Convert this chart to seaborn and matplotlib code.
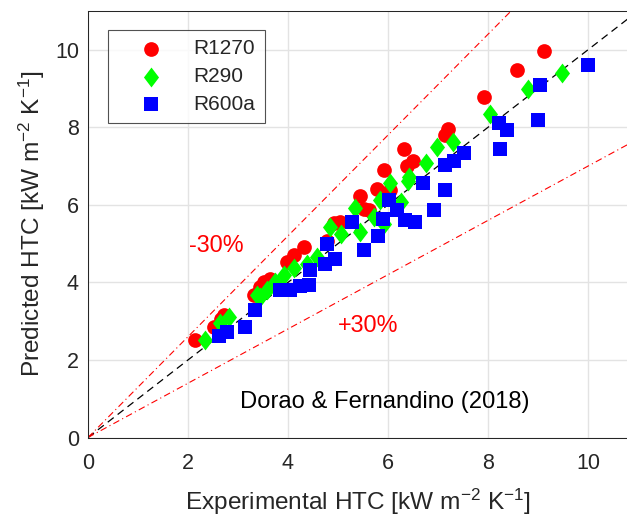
import numpy as np
import pandas as pd
import matplotlib
matplotlib.use("Agg")
import matplotlib.pyplot as plt
import seaborn as sns
from matplotlib.path import Path

# ---- data ----
r1270_exp = [2.14, 2.51, 2.65, 2.71, 3.31, 3.44, 3.51, 3.64, 3.97, 4.11, 4.31, 4.77, 4.92, 5.04,
             5.43, 5.51, 5.61, 5.77, 5.91, 6.04, 6.31, 6.37, 6.49, 7.13, 7.19, 7.91, 8.57, 9.11]
r1270_pred = [2.51, 2.85, 3.05, 3.15, 3.67, 3.88, 4.01, 4.10, 4.53, 4.70, 4.91, 5.08, 5.53, 5.55,
              6.22, 5.90, 5.86, 6.41, 6.89, 6.39, 7.43, 6.99, 7.14, 7.79, 7.96, 8.77, 9.49, 9.97]

r290_exp = [2.34, 2.64, 2.81, 3.37, 3.44, 3.57, 3.74, 3.91, 4.11, 4.37, 4.57, 4.84, 5.05, 5.34,
            5.44, 5.71, 5.83, 5.91, 6.03, 6.26, 6.39, 6.42, 6.75, 6.97, 7.29, 8.03, 8.79, 9.47]
r290_pred = [2.51, 2.95, 3.11, 3.67, 3.62, 3.80, 4.01, 4.18, 4.36, 4.48, 4.65, 5.43, 5.26, 5.93,
             5.30, 5.68, 6.13, 5.51, 6.56, 6.07, 6.61, 6.73, 7.07, 7.50, 7.61, 8.35, 9.00, 9.39]

r600a_exp = [2.61, 2.77, 3.14, 3.34, 3.84, 4.03, 4.23, 4.41, 4.44, 4.74, 4.77, 4.94, 5.27, 5.51,
             5.79, 5.89, 6.01, 6.17, 6.34, 6.54, 6.69, 6.91, 7.14, 7.14, 7.31, 7.52, 8.21, 8.23,
             8.37, 8.99, 9.03, 10.0]
r600a_pred = [2.61, 2.72, 2.85, 3.30, 3.81, 3.81, 3.90, 3.93, 4.33, 4.48, 5.00, 4.61, 5.55, 4.84,
              5.19, 5.64, 6.13, 5.87, 5.62, 5.57, 6.56, 5.86, 6.39, 7.04, 7.14, 7.35, 8.12, 7.44,
              7.93, 8.19, 9.09, 9.60]

series_names = ["R1270", "R290", "R600a"]
ref_factors = [1.0, 1.3, 0.7]
x_ticks = [0, 2, 4, 6, 8, 10]
y_ticks = [0, 2, 4, 6, 8, 10]

# ---- style ----
sns.set_style("white")
plt.rcParams["font.family"] = ["Liberation Sans", "DejaVu Sans"]
plt.rcParams["mathtext.fontset"] = "custom"
plt.rcParams["mathtext.rm"] = "Liberation Sans"
plt.rcParams["mathtext.it"] = "Liberation Sans:italic"
plt.rcParams["mathtext.bf"] = "Liberation Sans:bold"
plt.rcParams["mathtext.default"] = "regular"

W, H = 627, 518
fig = plt.figure(figsize=(W / 100, H / 100), dpi=100)
ax = fig.add_axes([88 / W, (H - 437.5) / H, 539 / W, 426.5 / H])

xmax, ymax = 10.78, 11.0
ax.set_xlim(0, xmax)
ax.set_ylim(0, ymax)

# reference lines
xl = np.array([0.0, 12.0])
ax.plot(xl, ref_factors[0] * xl, color="black", lw=0.9, ls=(0, (6, 4)), zorder=2)
ax.plot(xl, ref_factors[1] * xl, color="red", lw=0.8, ls=(0, (6, 3, 1, 3)), zorder=2)
ax.plot(xl, ref_factors[2] * xl, color="red", lw=0.8, ls=(0, (6, 3, 1, 3)), zorder=2)

diamond = Path([(0, 1), (0.76, 0), (0, -1), (-0.76, 0), (0, 1)],
               [Path.MOVETO, Path.LINETO, Path.LINETO, Path.LINETO, Path.CLOSEPOLY])

df1 = pd.DataFrame({"exp": r1270_exp, "pred": r1270_pred})
df2 = pd.DataFrame({"exp": r290_exp, "pred": r290_pred})
df3 = pd.DataFrame({"exp": r600a_exp, "pred": r600a_pred})

sns.scatterplot(data=df1, x="exp", y="pred", ax=ax, color="#ff0000", marker="o", s=112,
                linewidth=0, label=series_names[0], zorder=3)
sns.scatterplot(data=df2, x="exp", y="pred", ax=ax, color="#00ff00", marker=diamond, s=205,
                linewidth=0, label=series_names[1], zorder=4)
sns.scatterplot(data=df3, x="exp", y="pred", ax=ax, color="#0000ff", marker="s", s=88,
                linewidth=0, label=series_names[2], zorder=5)

# grid / ticks / spines
ax.set_xticks(x_ticks)
ax.set_yticks(y_ticks)
ax.grid(True, color="#e3e3e3", lw=1.0, zorder=0)
ax.set_axisbelow(True)
ax.tick_params(direction="in", length=4.5, width=0.75, colors="#262626", labelsize=15.5,
               top=False, right=False)
ax.tick_params(axis="x", pad=11.5)
ax.tick_params(axis="y", pad=6.5)
for sp in ["left", "bottom", "top", "right"]:
    ax.spines[sp].set_color("#262626")
    ax.spines[sp].set_linewidth(0.75)
ax.spines["right"].set_visible(False)

ax.set_xlabel(r"Experimental HTC [kW m$^{-2}$ K$^{-1}$]", fontsize=17.6, color="#262626", labelpad=9)
ax.set_ylabel(r"Predicted HTC [kW m$^{-2}$ K$^{-1}$]", fontsize=17.6, color="#262626", labelpad=6)

# annotations
ax.text(2.02, 4.96, "-30%", color="red", fontsize=16.8, va="center", ha="left")
ax.text(5.0, 2.9, "+30%", color="red", fontsize=16.8, va="center", ha="left")
ax.text(3.04, 0.91, "Dorao & Fernandino (2018)", color="black", fontsize=17.1, va="center", ha="left")

leg = ax.legend(loc="upper left", bbox_to_anchor=(20 / 539, 1 - 19 / 426.5), borderaxespad=0,
                fontsize=15, frameon=True, fancybox=False, handletextpad=0.4, labelspacing=0.42,
                borderpad=0.45, handlelength=3.25, markerscale=1.0)
leg.get_frame().set_edgecolor("#262626")
leg.get_frame().set_linewidth(0.8)
for t in leg.get_texts():
    t.set_color("#262626")

fig.savefig("out.png", dpi=100)
